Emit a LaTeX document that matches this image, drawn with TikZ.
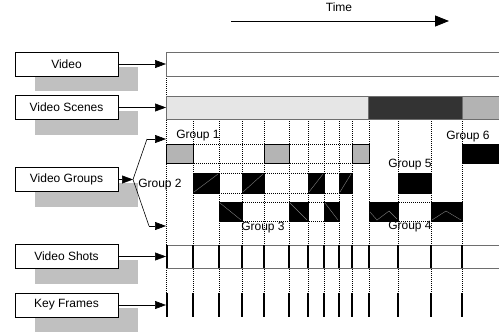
\documentclass[tikz,border=0pt]{standalone}
\usepackage{fontspec}
\setmainfont{Liberation Sans}
\usetikzlibrary{arrows.meta,shadows}
\definecolor{shadowgray}{HTML}{C0C0C0}
\definecolor{scenelight}{HTML}{E6E6E6}
\definecolor{scenedark}{HTML}{333333}
\definecolor{scenemid}{HTML}{B3B3B3}
\definecolor{grpgray}{HTML}{B4B4B4}
\definecolor{barline}{HTML}{6E6E6E}
\begin{document}
\begin{tikzpicture}[x=1pt,y=-1pt,
  lbl/.style={draw=black, line width=0.6pt, fill=white, minimum width=103pt, minimum height=24pt, inner sep=0pt,
    font=\fontsize{12}{14}\selectfont,
    general shadow={fill=shadowgray, shadow xshift=20pt, shadow yshift=-15pt}},
  glabel/.style={inner sep=0pt, font=\fontsize{12}{14}\selectfont},
  arr/.style={line width=0.6pt, -{Triangle[length=11pt,width=8pt]}},
  bigarr/.style={line width=0.8pt, -{Triangle[length=14pt,width=11pt]}},
  plain/.style={line width=0.6pt},
  bar/.style={draw=barline, line width=0.9pt},
  frameline/.style={line width=1.6pt, black},
  vdot/.style={line width=0.6pt, black, dash pattern=on 0.8pt off 1.2pt},
  grayblk/.style={draw=black, line width=0.6pt, fill=grpgray},
  blackblk/.style={draw=black, line width=0.6pt, fill=black},
  hatch/.style={draw=gray, line width=0.4pt}
]
\useasboundingbox (0,0) rectangle (499,335);
\clip (0,0) rectangle (499,335);

% dotted vertical guides
\draw[vdot] (166.5,76) -- (166.5,293);
\foreach \x in {193,219,242,264,289,308,324,339,352,369,398,431,462}
  \draw[vdot] (\x,119) -- (\x,293);

% Video bar
\draw[bar, fill=white] (166,52) rectangle (520,76);
% Scenes bar
\fill[scenelight] (166,96) rectangle (368,119);
\fill[scenedark] (368,96) rectangle (462,119);
\fill[scenemid] (462,96) rectangle (520,119);
\draw[bar] (166,96) rectangle (520,119);
\draw[bar] (368,96) -- (368,119);
\draw[bar] (462,96) -- (462,119);

% Group rows: dotted outlines
\draw[vdot] (166,144) -- (352,144);
\draw[vdot] (166,163) -- (352,163);
\draw[vdot] (193,173) -- (352,173);
\draw[vdot] (193,193) -- (352,193);
\draw[vdot] (219,202) -- (339,202);
\draw[vdot] (219,221) -- (339,221);
\draw[vdot] (369,202) -- (462,202);
\draw[vdot] (369,221) -- (462,221);

% Group 1 boxes
\foreach \a/\b in {166/193,264/289,352/369}
  \draw[grayblk] (\a,144) rectangle (\b,163);
% Group 2 boxes
\foreach \a/\b in {193/219,242/264,308/324,339/352}{
  \draw[blackblk] (\a,173) rectangle (\b,193);
  \draw[hatch] (\a+1,192) -- (\b-1,174);
}
% Group 3 boxes
\foreach \a/\b in {219/242,289/308,324/339}{
  \draw[blackblk] (\a,202) rectangle (\b,221);
  \draw[hatch] (\a+1,203) -- (\b-1,220);
}
% Group 4 boxes
\draw[blackblk] (369,202) rectangle (398,221);
\draw[hatch] (370,212) -- (377,220) -- (389,211) -- (397,219);
\draw[blackblk] (431,202) rectangle (462,221);
\draw[hatch] (432,220) -- (446,211) -- (461,220);
% Group 5 box
\draw[blackblk] (398,173) rectangle (431,193);
% Group 6 box
\draw[blackblk] (462,144) rectangle (520,163);

% Video shots bar
\draw[bar, fill=white] (166,245) rectangle (520,268);
\foreach \x in {166.8,193,219,242,264,289,308,324,339,352,369,398,431,462}
  \draw[frameline] (\x,245) -- (\x,268);
% Key frames
\foreach \x in {166.8,193,219,242,264,289,308,324,339,352,369,398,431,462}
  \draw[frameline] (\x,293) -- (\x,317);

% group labels
\node[glabel] (g1l) at (198,136) {Group 1};
\node[glabel] (g2l) at (160,185) {Group 2};
\node[glabel] (g3l) at (263,228) {Group 3};
\node[glabel] (g4l) at (410,227) {Group 4};
\node[glabel] (g5l) at (410,165) {Group 5};
\node[glabel] (g6l) at (468,137) {Group 6};

% left label boxes
\node[lbl] (video) at (66.5,64) {Video};
\node[lbl] (scenes) at (66.5,107.5) {Video Scenes};
\node[lbl] (groups) at (66.5,179.5) {Video Groups};
\node[lbl] (shots) at (66.5,256.5) {Video Shots};
\node[lbl] (keys) at (66.5,305) {Key Frames};

% targets
\coordinate (tv) at (166,64);
\coordinate (ts) at (166,107.5);
\coordinate (tsh) at (166,256.5);
\coordinate (tk) at (166,305);
\coordinate (j) at (133,179.5);
\coordinate (b1) at (147,139);
\coordinate (b3) at (149,226);
\coordinate (tg1) at (166,139);
\coordinate (tg3) at (166,226);

\draw[arr] (video.east) -- (tv);
\draw[arr] (scenes.east) -- (ts);
\draw[arr] (groups.east) -- (j);
\draw[plain] (j) -- (b1);
\draw[arr] (b1) -- (tg1);
\draw[plain] (j) -- (b3);
\draw[arr] (b3) -- (tg3);
\draw[arr] (shots.east) -- (tsh);
\draw[arr] (keys.east) -- (tk);

% time arrow
\node[glabel] (time) at (339,7) {Time};
\coordinate (ta) at (231,21);
\coordinate (tb) at (449,21);
\draw[bigarr] (ta) -- (tb);
\end{tikzpicture}
\end{document}
